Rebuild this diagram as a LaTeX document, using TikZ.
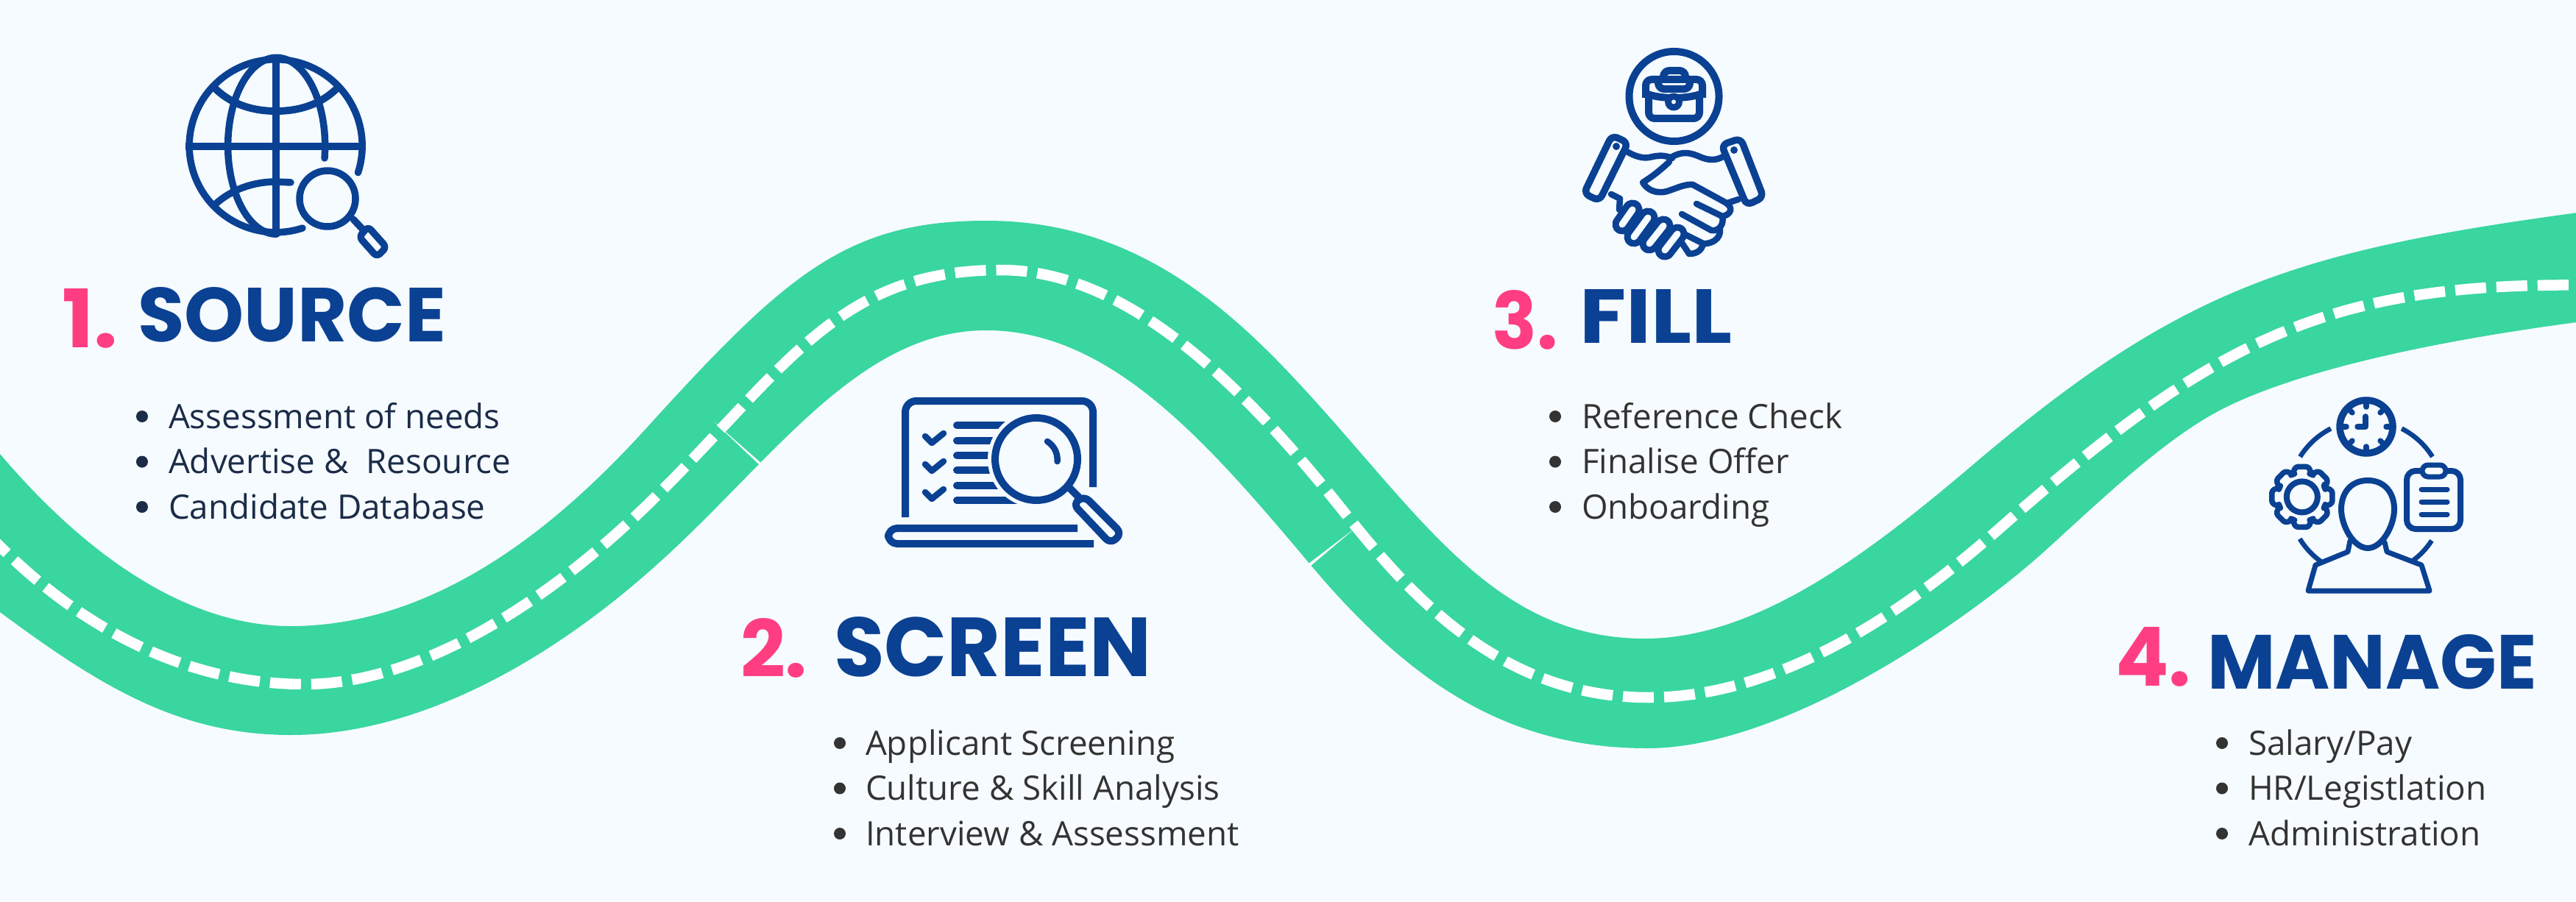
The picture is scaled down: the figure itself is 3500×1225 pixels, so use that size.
\documentclass[tikz,border=0pt]{standalone}
\usepackage{fontspec}
\usepackage{graphicx}
\usetikzlibrary{calc}
\setmainfont{Open Sans}
\newfontfamily\titlefont{Poppins}
\definecolor{bgc}{HTML}{F6FBFF}
\definecolor{roadc}{HTML}{39D6A0}
\definecolor{navy}{HTML}{0A4193}
\definecolor{pinkc}{HTML}{FF3E82}
\definecolor{txtc}{HTML}{333333}
\definecolor{txta}{HTML}{1B2C48}
\tikzset{
  lane/.style={draw=white,line width=2.9pt,dash pattern=on 8.4pt off 2.8pt},
  ic/.style={draw=navy,line width=1.9pt,line cap=round,line join=round},
  icb/.style={draw=navy,line width=2pt,line cap=butt,line join=round},
  thin/.style={draw=navy,line width=1.3pt,line cap=butt,line join=round},
  lbl/.style={anchor=base west,inner sep=0pt,outer sep=0pt},
}
\newcommand{\itemfont}{\fontsize{9.15}{11}\selectfont}
\newcommand{\ttl}[7]{\node[lbl,text=#7] (#1) at (#3,#4) {\resizebox{#5pt}{#6pt}{\titlefont\bfseries #2}};}
\begin{document}
\begin{tikzpicture}[x=0.2pt,y=0.2pt,yscale=-1]
\useasboundingbox (0,0) rectangle (3500,1225);
\fill[bgc] (0,0) rectangle (3500,1225);
% road
\begin{scope}
\clip (0,0) rectangle (3500,1225);
\fill[roadc] (-30,587) -- (0,617)
  .. controls (100,735) and (240,851) .. (395,851)
  .. controls (610,851) and (780,690) .. (880,580)
  .. controls (1069,372) and (1151,300) .. (1340,300)
  .. controls (1527,300) and (1653,401) .. (1761,517)
  .. controls (1929,697) and (2027,868) .. (2235,868)
  .. controls (2394,868) and (2553,740) .. (2685,628)
  .. controls (2971,385) and (3127,338) .. (3540,284)
  -- (3540,433)
  .. controls (3280,465) and (3100,511.5) .. (3010,561)
  .. controls (2935,602) and (2852,682) .. (2777,750)
  .. controls (2684,834) and (2431,1017) .. (2238,1017)
  .. controls (2050,1017) and (1917,930) .. (1780,767)
  .. controls (1639,599) and (1508,449) .. (1340,449)
  .. controls (1166,449) and (1050,626) .. (893,767)
  .. controls (743,902) and (565,999) .. (395,999)
  .. controls (243,999) and (135,932) .. (0,832)
  -- (-30,800) -- cycle;
\draw[lane] (-20,722)
  .. controls (100,850) and (250,930) .. (414,930)
  .. controls (561,930) and (736,830) .. (896,670)
  .. controls (1071,495) and (1142,367) .. (1360,367)
  .. controls (1536,367) and (1696,533) .. (1823,692)
  .. controls (1908,798) and (2031,948) .. (2240,948)
  .. controls (2446,948) and (2635,790) .. (2717,718)
  .. controls (3014,457) and (3167,380) .. (3540,388);
\fill[bgc] (970,573) -- (1036,631) -- (1033,633) -- cycle;
\fill[bgc] (1841,718) -- (1778,766) -- (1781,769) -- cycle;
\end{scope}
% --- icon 1 globe
\draw[ic] (411,310) arc[start angle=72,end angle=378,radius=117.5];
\draw[icb] (375,76) -- (375,321);
\draw[icb] (252,199) -- (497,199);
\draw[ic] (441,215) arc[start angle=8,end angle=-270,x radius=66,y radius=120];
\draw[icb] (291,119) .. controls (315,143) and (345,151) .. (375,151) .. controls (405,151) and (435,143) .. (459,119);
\draw[ic] (292,278) .. controls (315,257) and (345,247) .. (375,247) -- (395,248);
\draw[ic] (445,270) circle[radius=38];
\draw[ic] (480,298) -- (495,314);
\draw[ic,rounded corners=1.2pt] (488,322) -- (500,308) -- (525,336) -- (512,349) -- cycle;
% --- icon 2 laptop
\draw[icb,rounded corners=3pt] (1230,703) -- (1230,545) -- (1485,545) -- (1485,662);
\draw[icb,rounded corners=2.4pt] (1464,718) -- (1207,718) -- (1207,739) -- (1486,739);
\foreach \d in {0,38,76}{
  \draw[ic,line width=1.7pt] (1257,593+\d) -- (1266,602+\d) -- (1282,589+\d);
}
\foreach \yy in {578,599,619,639,660,680}{
  \draw[ic,line width=2pt] (1300,\yy) -- (1400,\yy);
}
\fill[bgc] (1408,624) circle[radius=66];
\draw[icb] (1408,624) circle[radius=56];
\draw[ic,line width=1.7pt] (1423,600) arc[start angle=-58,end angle=5,radius=29];
\draw[icb] (1452,662) -- (1466,676);
\draw[icb,fill=bgc,rounded corners=1.8pt] (1458,685) -- (1473,674) -- (1524,725) -- (1509,739) -- cycle;
% --- icon 3 handshake
\draw[icb] (2274.5,131) circle[radius=61];
\draw[icb,rounded corners=1.6pt] (2260,104) -- (2260,96) -- (2290,96) -- (2290,104);
\draw[icb,rounded corners=1.6pt] (2253,110) -- (2253,121) -- (2296,121) -- (2296,110);
\draw[icb,rounded corners=1.6pt] (2236,133) -- (2236,108) -- (2313,108) -- (2313,133);
\draw[icb] (2236,127) .. controls (2255,135) and (2293,135) .. (2313,127);
\draw[icb,rounded corners=1.6pt] (2240,133) -- (2240,161) -- (2309,161) -- (2309,133);
\fill[navy] (2274,138.5) circle[radius=12];
\fill[bgc] (2274,138.5) circle[radius=3];
% cuffs
\draw[ic,rounded corners=1.6pt] (2190,184) -- (2212,194) -- (2173,273) -- (2152,263) -- cycle;
\draw[ic,rounded corners=1.6pt] (2339,197) -- (2365,188) -- (2396,268) -- (2373,279) -- cycle;
\fill[navy] (2196,199) circle[radius=5];
\fill[navy] (2356,204) circle[radius=5];
% hands
\draw[ic,line width=1.7pt] (2212,207) .. controls (2225,214) and (2235,216) .. (2245,213) .. controls (2255,211) and (2262,211) .. (2272,215);
\draw[ic,line width=1.7pt] (2268,220) .. controls (2255,232) and (2245,240) .. (2232,248) .. controls (2238,258) and (2250,264) .. (2265,260) .. controls (2280,255) and (2290,250) .. (2300,251) -- (2344,275) .. controls (2356,282) and (2352,292) .. (2340,294) -- (2305,277);
\draw[ic,line width=1.7pt] (2272,213) .. controls (2285,206) and (2295,207) .. (2307,212) .. controls (2320,218) and (2330,219) .. (2341,213);
\draw[ic,line width=1.7pt] (2347,276) -- (2362,271);
\draw[ic,line width=1.7pt] (2340,294) .. controls (2343,305) and (2335,315) .. (2325,313) -- (2285,291);
\draw[ic,line width=1.7pt] (2337,312) .. controls (2338,325) and (2325,332) .. (2314,331) -- (2280,314);
\draw[ic,line width=1.7pt] (2314,331) .. controls (2312,342) and (2303,345) .. (2295,345) -- (2283,327);
\draw[ic,line width=1.7pt] (2189,264) -- (2201,270) -- (2200,285);
\foreach \ax/\ay/\bx/\by in {2204/305/2218/285,2220/322/2239/296,2241/331/2260/307,2262/340/2279/318}{
  \draw[navy,line width=5.4pt,line cap=round] (\ax,\ay) -- (\bx,\by);
  \draw[bgc,line width=1.8pt,line cap=round] (\ax,\ay) -- (\bx,\by);
}
% --- icon 4 person
\draw[ic] (3215,580) circle[radius=36];
\foreach \a in {0,45,...,315}{
  \draw[ic,line width=1.5pt] ($(3215,580)+(\a:36)$) -- ($(3215,580)+(\a:27)$);
}
\draw[ic,line width=1.5pt] (3214,566) -- (3214,580) -- (3203,580);
\begin{scope}[shift={(3215,677)}]
  \draw[thin] (-148:106) arc[start angle=-148,end angle=-117,radius=106];
  \draw[thin] (-63:106) arc[start angle=-63,end angle=-32,radius=106];
  \draw[thin] (148.5:106) arc[start angle=148.5,end angle=123.5,radius=106];
  \draw[thin] (33:106) arc[start angle=33,end angle=54,radius=106];
\end{scope}
\begin{scope}[shift={(3127.8,675.4)}]
  \draw[ic,line width=1.6pt] (21,0) arc[start angle=0,end angle=360,radius=21];
  \draw[ic,line width=1.5pt,rounded corners=0.7pt] (-24:33)
    \foreach \a in {0,45,...,315}{ -- ({\a-24}:33) -- ({\a-12}:42) -- ({\a+12}:42) -- ({\a+24}:33) } -- cycle;
\end{scope}
\draw[ic,line width=1.6pt,rounded corners=2.4pt] (3270,640) rectangle (3343,719);
\draw[ic,line width=1.4pt,fill=bgc,rounded corners=1.6pt] (3291,632) rectangle (3323,648);
\foreach \yy in {665,682,699}{
  \draw[ic,line width=1.4pt] (3290,\yy) -- (3325,\yy);
}
\draw[ic,line width=1.6pt] (3217,653) .. controls (3240,653) and (3253,670) .. (3253,692) .. controls (3253,715) and (3236,745) .. (3217,745) .. controls (3198,745) and (3181,715) .. (3181,692) .. controls (3181,670) and (3194,653) .. (3217,653);
\draw[ic,line width=1.4pt] (3193,735) -- (3190,750) -- (3146,768) -- (3136,803) -- (3301,803) -- (3290,768) -- (3243,750) -- (3240,737);
% --- titles
\ttl{n1}{1.}{84}{472}{15.2}{16}{pinkc}
\ttl{t1}{SOURCE}{187}{464}{83.8}{14.8}{navy}
\ttl{n2}{2.}{1006}{920}{18.2}{16}{pinkc}
\ttl{t2}{SCREEN}{1133}{919}{86.3}{16.2}{navy}
\ttl{n3}{3.}{2027}{474}{17.9}{16}{pinkc}
\ttl{t3}{FILL}{2146}{466.6}{41.5}{14.6}{navy}
\ttl{n4}{4.}{2874}{932}{20.6}{16}{pinkc}
\ttl{t4}{MANAGE}{2999}{936}{89.6}{14.8}{navy}
% --- lists
\foreach \yy/\nm/\tx in {582/a1/{Assessment of needs},643.6/a2/{Advertise \&\ \ Resource},705/a3/{Candidate Database}}{
  \fill[txta] (193,\yy-16) circle[radius=8];
  \node[lbl,text=txta,font=\itemfont] (\nm) at (229,\yy) {\tx};
}
\foreach \yy/\nm/\tx in {1026/b1/{Applicant Screening},1087.5/b2/{Culture \& Skill Analysis},1149/b3/{Interview \& Assessment}}{
  \fill[txtc] (1141,\yy-16) circle[radius=8];
  \node[lbl,text=txtc,font=\itemfont] (\nm) at (1176,\yy) {\tx};
}
\foreach \yy/\nm/\tx in {582/c1/{Reference Check},643.6/c2/{Finalise Offer},705/c3/{Onboarding}}{
  \fill[txtc] (2113,\yy-16) circle[radius=8];
  \node[lbl,text=txtc,font=\itemfont] (\nm) at (2149,\yy) {\tx};
}
\foreach \yy/\nm/\tx in {1026/d1/{Salary/Pay},1087.5/d2/{HR/Legistlation},1149/d3/{Administration}}{
  \fill[txtc] (3019,\yy-16) circle[radius=8];
  \node[lbl,text=txtc,font=\itemfont] (\nm) at (3055,\yy) {\tx};
}
\end{tikzpicture}
\end{document}
